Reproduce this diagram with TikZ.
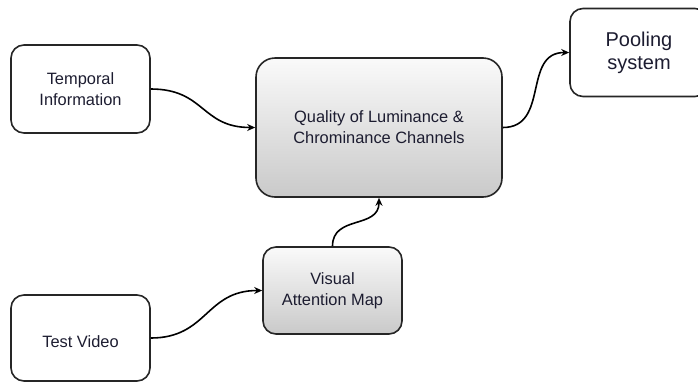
\documentclass[tikz,border=0pt]{standalone}
\usepackage{fontspec}
\setmainfont{Liberation Sans}
\usetikzlibrary{arrows.meta}
\definecolor{inkcol}{RGB}{28,28,48}
\begin{document}
\begin{tikzpicture}[x=1pt,y=-1pt,
  box/.style={draw=black!85, line width=1.6pt, rounded corners=13pt,
    inner sep=0pt, align=center, text=inkcol,
    font=\fontsize{16.4}{21}\selectfont},
  shadedbox/.style={box, top color=gray!4, bottom color=gray!42},
  flow/.style={line width=1.6pt, -{Stealth[length=8pt,width=7pt]}}]
  \useasboundingbox (0,0) rectangle (698,381);
  % source blocks
  \node[box, minimum width=139pt, minimum height=88pt] (temporal) at (80.5,89)
    {Temporal\\Information};
  \node[box, minimum width=139pt, minimum height=86pt] (test) at (80.5,338)
    {\raisebox{-3.5pt}[\height][\depth]{Test Video}};
  % processing blocks
  \node[shadedbox, rounded corners=19pt, minimum width=246pt, minimum height=139pt]
    (quality) at (379,127.5) {Quality of Luminance \&\\Chrominance Channels};
  \node[shadedbox, minimum width=139pt, minimum height=87pt] (visual) at (332.5,290.5)
    {Visual\\Attention Map};
  % output block
  \node[box, font=\fontsize{20}{23}\selectfont, minimum width=138pt, minimum height=88pt]
    (pooling) at (639,52.5) {Pooling\\system};
  % connectors
  \draw[flow] (temporal.east) to[out=0, in=180, looseness=1.25] (quality.west);
  \draw[flow] (quality.east) to[out=0, in=180, looseness=1.2] (pooling.west);
  \draw[flow] (test.east) to[out=0, in=180, looseness=1.2] (visual.west);
  \draw[flow] (visual.north) to[out=90, in=-90, looseness=1.2] (quality.south);
\end{tikzpicture}
\end{document}
